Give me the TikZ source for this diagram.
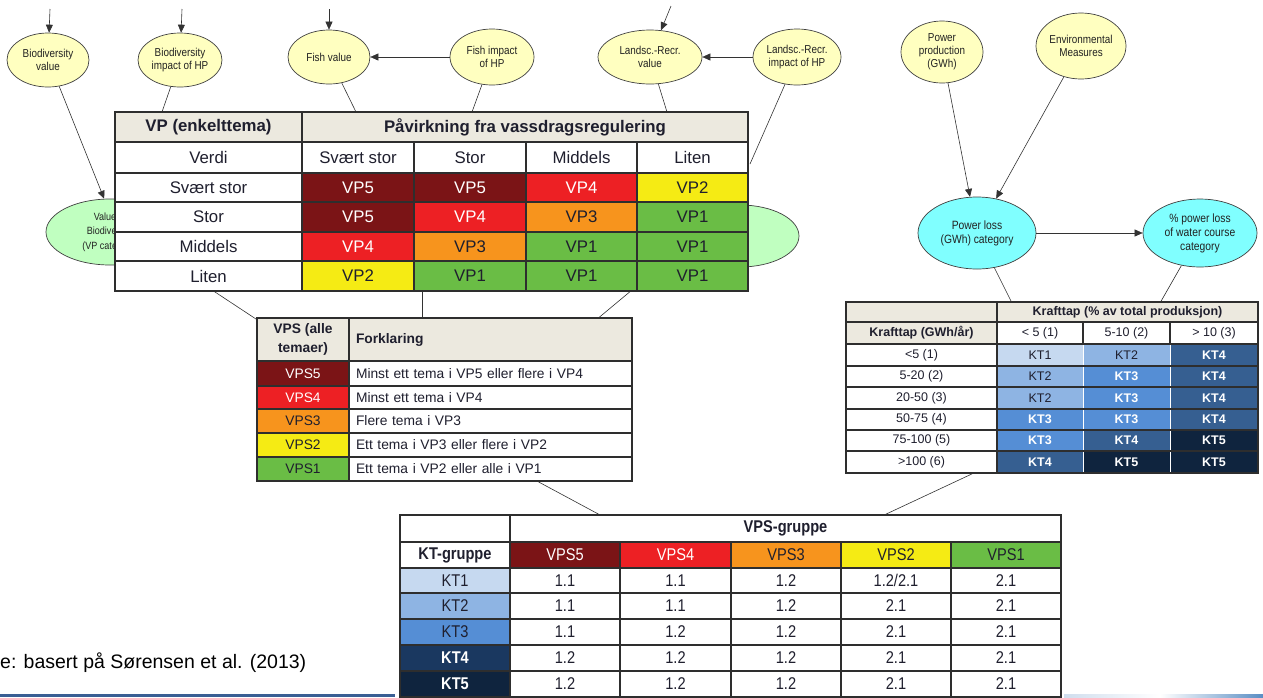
\documentclass[tikz,border=0pt]{standalone}
\usepackage{fontspec}
\setmainfont{Liberation Sans}
\newfontfamily\narrowfont[FakeStretch=0.86]{Liberation Sans}
\usetikzlibrary{shapes.geometric,arrows.meta}
\definecolor{vp5}{HTML}{7B1416}
\definecolor{vp4}{HTML}{ED2024}
\definecolor{vp3}{HTML}{F7941D}
\definecolor{vp2}{HTML}{F5EB14}
\definecolor{vp1}{HTML}{6ABD45}
\definecolor{hdr}{HTML}{ECE9DF}
\definecolor{bdr}{HTML}{2E2E2E}
\definecolor{kt1}{HTML}{C6D9F0}
\definecolor{kt2}{HTML}{8EB4E3}
\definecolor{kt3}{HTML}{558ED5}
\definecolor{kt4}{HTML}{365F91}
\definecolor{kt4b}{HTML}{1A3860}
\definecolor{kt5}{HTML}{0F243E}
\definecolor{ellY}{HTML}{FFFFC0}
\definecolor{ellC}{HTML}{80FFFF}
\definecolor{ellG}{HTML}{C0FFC0}
\definecolor{ellbd}{HTML}{404040}
\definecolor{etxt}{HTML}{222222}
\definecolor{txt}{HTML}{1F1F2E}
\definecolor{lncol}{HTML}{333333}
\definecolor{barblue}{HTML}{3A5F94}
\definecolor{barlight}{HTML}{D0DEEE}
\definecolor{barright}{HTML}{5A8EC4}
\newcommand\mkcell[7]{%
 \pgfmathsetmacro\tcw{#4-#2}\pgfmathsetmacro\tch{#5-#3}%
 \pgfmathsetmacro\tcx{(#2+#4)/2}\pgfmathsetmacro\tcy{(#3+#5)/2}%
 \node[tcell,#6,minimum width=\tcw pt,minimum height=\tch pt] (#1) at (\tcx,\tcy) {#7};}
\newcommand\mkleft[7]{%
 \pgfmathsetmacro\tcw{#4-#2}\pgfmathsetmacro\tch{#5-#3}%
 \pgfmathsetmacro\tcx{(#2+#4)/2}\pgfmathsetmacro\tcy{(#3+#5)/2}%
 \pgfmathsetmacro\tlw{#4-#2-14}%
 \node[tcell,#6,minimum width=\tcw pt,minimum height=\tch pt,text width=\tlw pt,align=left,inner xsep=7pt] (#1) at (\tcx,\tcy) {#7};}
\tikzset{
 ell/.style={ellipse, draw=ellbd, line width=0.7pt, inner sep=0pt, align=center, text=etxt, font=\narrowfont\fontsize{11.5}{13}\selectfont},
 ylw/.style={ell, fill=ellY},
 cyn/.style={ell, fill=ellC, font=\narrowfont\fontsize{12}{14}\selectfont},
 grn/.style={ell, fill=ellG, font=\narrowfont\fontsize{10.5}{14.5}\selectfont},
 conn/.style={draw=lncol, line width=0.6pt},
 arr/.style={conn, -{Triangle[length=8pt,width=7pt]}},
 tcell/.style={draw=bdr, fill=white, line width=1.6pt, inner sep=0pt, align=center, text=txt},
 mt/.style={font=\fontsize{16.8}{19}\selectfont},
 mth/.style={fill=hdr, font=\bfseries\fontsize{16.8}{19}\selectfont},
 c5/.style={fill=vp5,text=white},
 c4/.style={fill=vp4,text=white},
 c3/.style={fill=vp3,text=txt},
 c2/.style={fill=vp2,text=txt},
 c1/.style={fill=vp1,text=txt},
 vt/.style={line width=1.2pt, font=\fontsize{13.8}{16}\selectfont},
 vth/.style={vt, fill=hdr, font=\bfseries\fontsize{13.8}{19}\selectfont},
 kt/.style={line width=1pt, font=\fontsize{12.5}{14}\selectfont},
 kth/.style={kt, fill=hdr, font=\bfseries\fontsize{12.5}{14}\selectfont},
 kb/.style={font=\bfseries\fontsize{12.5}{14}\selectfont},
 k1/.style={kt, fill=kt1, draw=white, text=txt},
 k2/.style={kt, fill=kt2, draw=white, text=txt},
 k3/.style={kt, kb, fill=kt3, draw=white, text=white},
 k4/.style={kt, kb, fill=kt4, draw=white, text=white},
 k5/.style={kt, kb, fill=kt5, draw=white, text=white},
 kline/.style={draw=bdr, line width=1.4pt},
 bt/.style={line width=1.3pt, font=\narrowfont\fontsize{17}{19}\selectfont},
 bth/.style={bt, font=\narrowfont\bfseries\fontsize{17}{19}\selectfont},
 bline/.style={draw=bdr, line width=2pt},
}
\begin{document}
\begin{tikzpicture}[x=1pt,y=-1pt]
\useasboundingbox (0,0) rectangle (1263,697);
% green ellipses (partly behind the table)
\node[grn, minimum width=128pt, minimum height=66pt] (gL) at (110,232) {Value of\\Biodiversity\\(VP category)};
\node[grn, minimum width=118pt, minimum height=62pt] (gR) at (740,236) {};
% yellow ellipses
\node[ylw, minimum width=82pt, minimum height=54pt] (bv) at (48,60) {Biodiversity\\value};
\node[ylw, minimum width=84pt, minimum height=54pt] (bi) at (180,60) {Biodiversity\\impact of HP};
\node[ylw, minimum width=82pt, minimum height=54pt] (fv) at (329,57) {Fish value};
\node[ylw, minimum width=84pt, minimum height=56pt] (fi) at (492,57) {Fish impact\\of HP};
\node[ylw, minimum width=104pt, minimum height=54pt] (lv) at (650,57) {Landsc.-Recr.\\value};
\node[ylw, minimum width=88pt, minimum height=56pt] (li) at (797,57) {Landsc.-Recr.\\impact of HP};
\node[ylw, minimum width=82pt, minimum height=62pt] (pp) at (942,52) {Power\\production\\(GWh)};
\node[ylw, minimum width=90pt, minimum height=66pt] (em) at (1081,46) {Environmental\\Measures};
\node[cyn, minimum width=118pt, minimum height=72pt] (pl) at (977,233) {Power loss\\(GWh) category};
\node[cyn, minimum width=114pt, minimum height=68pt] (ppl) at (1200,233) {\% power loss\\of water course\\category};
% free ends of connectors
\coordinate (tbv) at (50,9);
\coordinate (tbi) at (182,9);
\coordinate (tfv) at (329,9);
\coordinate (tlv) at (671,6);
\coordinate (ebi) at (162,112);
\coordinate (efv) at (356,112);
\coordinate (efi) at (472,112);
\coordinate (elv) at (667,112);
\coordinate (eli) at (750,164);
\coordinate (epl) at (1012,303);
\coordinate (eppl) at (1160,303);
\coordinate (m1a) at (212,290);
\coordinate (m1b) at (259,321);
\coordinate (m2a) at (422,290);
\coordinate (m2b) at (422,320);
\coordinate (m3a) at (632,290);
\coordinate (m3b) at (596,320);
\coordinate (v1a) at (535,480);
\coordinate (v1b) at (602,516);
\coordinate (k1a) at (976,472);
\coordinate (k1b) at (882,516);
% connectors
\draw[arr] (tbv) -- (bv);
\draw[arr] (tbi) -- (bi);
\draw[arr] (tfv) -- (fv);
\draw[arr] (tlv) -- (lv);
\draw[arr] (fi) -- (fv);
\draw[arr] (li) -- (lv);
\draw[arr] (bv.-67) -- (gL.100);
\draw[arr] (pp) -- (pl);
\draw[arr] (em) -- (pl);
\draw[arr] (pl) -- (ppl);
\draw[conn] (bi) -- (ebi);
\draw[conn] (fv) -- (efv);
\draw[conn] (fi) -- (efi);
\draw[conn] (lv) -- (elv);
\draw[conn] (li) -- (eli);
\draw[conn] (pl) -- (epl);
\draw[conn] (ppl) -- (eppl);
\draw[conn] (m1a) -- (m1b);
\draw[conn] (m2a) -- (m2b);
\draw[conn] (m3a) -- (m3b);
\draw[conn] (v1a) -- (v1b);
\draw[conn] (k1a) -- (k1b);
% ===== main VP table =====
\mkcell{mh0}{115}{112}{302}{142}{mth}{VP (enkelttema)}
\mkcell{mh1}{302}{112}{748}{142}{mth}{Påvirkning fra vassdragsregulering}
\mkcell{mv0}{115}{142}{302}{173}{mt}{Verdi}
\mkcell{mv1}{302}{142}{414}{173}{mt}{Svært stor}
\mkcell{mv2}{414}{142}{526}{173}{mt}{Stor}
\mkcell{mv3}{526}{142}{637}{173}{mt}{Middels}
\mkcell{mv4}{637}{142}{748}{173}{mt}{Liten}
\mkcell{ma0}{115}{173}{302}{202}{mt}{Svært stor}
\mkcell{ma1}{302}{173}{414}{202}{mt,c5}{VP5}
\mkcell{ma2}{414}{173}{526}{202}{mt,c5}{VP5}
\mkcell{ma3}{526}{173}{637}{202}{mt,c4}{VP4}
\mkcell{ma4}{637}{173}{748}{202}{mt,c2}{VP2}
\mkcell{mb0}{115}{202}{302}{232}{mt}{Stor}
\mkcell{mb1}{302}{202}{414}{232}{mt,c5}{VP5}
\mkcell{mb2}{414}{202}{526}{232}{mt,c4}{VP4}
\mkcell{mb3}{526}{202}{637}{232}{mt,c3}{VP3}
\mkcell{mb4}{637}{202}{748}{232}{mt,c1}{VP1}
\mkcell{mc0}{115}{232}{302}{261}{mt}{Middels}
\mkcell{mc1}{302}{232}{414}{261}{mt,c4}{VP4}
\mkcell{mc2}{414}{232}{526}{261}{mt,c3}{VP3}
\mkcell{mc3}{526}{232}{637}{261}{mt,c1}{VP1}
\mkcell{mc4}{637}{232}{748}{261}{mt,c1}{VP1}
\mkcell{md0}{115}{261}{302}{291}{mt}{Liten}
\mkcell{md1}{302}{261}{414}{291}{mt,c2}{VP2}
\mkcell{md2}{414}{261}{526}{291}{mt,c1}{VP1}
\mkcell{md3}{526}{261}{637}{291}{mt,c1}{VP1}
\mkcell{md4}{637}{261}{748}{291}{mt,c1}{VP1}
\foreach \yy in {173,202,232,261}{\draw[draw=bdr,line width=2.4pt] (115,\yy) -- (748,\yy);}
\draw[draw=bdr,line width=2.4pt] (115,112) rectangle (748,291);
% ===== VPS table =====
\mkcell{vh0}{257}{318}{349}{361}{vth}{VPS (alle\\temaer)}
\mkleft{vh1}{349}{318}{632}{361}{vth}{Forklaring}
\mkcell{v50}{257}{361}{349}{386}{vt,c5}{VPS5}
\mkleft{v51}{349}{361}{632}{386}{vt}{Minst ett tema i VP5 eller flere i VP4}
\mkcell{v40}{257}{386}{349}{409}{vt,c4}{VPS4}
\mkleft{v41}{349}{386}{632}{409}{vt}{Minst ett tema i VP4}
\mkcell{v30}{257}{409}{349}{433}{vt,c3}{VPS3}
\mkleft{v31}{349}{409}{632}{433}{vt}{Flere tema i VP3}
\mkcell{v20}{257}{433}{349}{457}{vt,c2}{VPS2}
\mkleft{v21}{349}{433}{632}{457}{vt}{Ett tema i VP3 eller flere i VP2}
\mkcell{v10}{257}{457}{349}{481}{vt,c1}{VPS1}
\mkleft{v11}{349}{457}{632}{481}{vt}{Ett tema i VP2 eller alle i VP1}
\draw[draw=bdr,line width=1.6pt] (257,318) rectangle (632,481);
% ===== Krafttap table =====
\mkcell{kh0}{846}{302}{997}{322}{kth}{}
\mkcell{kh1}{997}{302}{1258}{322}{kth}{Krafttap (\% av total produksjon)}
\mkcell{ks0}{846}{322}{997}{344}{kth}{Krafttap (GWh/år)}
\mkcell{ks1}{997}{322}{1083}{344}{kt}{< 5 (1)}
\mkcell{ks2}{1083}{322}{1170}{344}{kt}{5-10 (2)}
\mkcell{ks3}{1170}{322}{1258}{344}{kt}{> 10 (3)}
\mkcell{k10}{846}{344}{997}{366}{kt}{<5 (1)}
\mkcell{k11}{997}{344}{1083}{366}{k1}{KT1}
\mkcell{k12}{1083}{344}{1170}{366}{k2}{KT2}
\mkcell{k13}{1170}{344}{1258}{366}{k4}{KT4}
\mkcell{k20}{846}{366}{997}{387}{kt}{5-20 (2)}
\mkcell{k21}{997}{366}{1083}{387}{k2}{KT2}
\mkcell{k22}{1083}{366}{1170}{387}{k3}{KT3}
\mkcell{k23}{1170}{366}{1258}{387}{k4}{KT4}
\mkcell{k30}{846}{387}{997}{409}{kt}{20-50 (3)}
\mkcell{k31}{997}{387}{1083}{409}{k2}{KT2}
\mkcell{k32}{1083}{387}{1170}{409}{k3}{KT3}
\mkcell{k33}{1170}{387}{1258}{409}{k4}{KT4}
\mkcell{k40}{846}{409}{997}{430}{kt}{50-75 (4)}
\mkcell{k41}{997}{409}{1083}{430}{k3}{KT3}
\mkcell{k42}{1083}{409}{1170}{430}{k3}{KT3}
\mkcell{k43}{1170}{409}{1258}{430}{k4}{KT4}
\mkcell{k50}{846}{430}{997}{451}{kt}{75-100 (5)}
\mkcell{k51}{997}{430}{1083}{451}{k3}{KT3}
\mkcell{k52}{1083}{430}{1170}{451}{k4}{KT4}
\mkcell{k53}{1170}{430}{1258}{451}{k5}{KT5}
\mkcell{k60}{846}{451}{997}{473}{kt}{>100 (6)}
\mkcell{k61}{997}{451}{1083}{473}{k4}{KT4}
\mkcell{k62}{1083}{451}{1170}{473}{k5}{KT5}
\mkcell{k63}{1170}{451}{1258}{473}{k5}{KT5}
\foreach \yy in {322,344,366,387,409,430,451}{\draw[kline] (846,\yy) -- (1258,\yy);}
\draw[kline] (997,302) -- (997,473);
\draw[kline] (1083,322) -- (1083,344);
\draw[kline] (1170,322) -- (1170,344);
\draw[kline] (846,302) rectangle (1258,473);
% ===== bottom table =====
\mkcell{bh0}{400}{515}{510}{542}{bth}{}
\mkcell{bh1}{510}{515}{1061}{542}{bth}{VPS-gruppe}
\mkcell{bs0}{400}{542}{510}{568}{bth}{KT-gruppe}
\mkcell{bs1}{510}{542}{620}{568}{bt,c5}{VPS5}
\mkcell{bs2}{620}{542}{731}{568}{bt,c4}{VPS4}
\mkcell{bs3}{731}{542}{841}{568}{bt,c3}{VPS3}
\mkcell{bs4}{841}{542}{951}{568}{bt,c2}{VPS2}
\mkcell{bs5}{951}{542}{1061}{568}{bt,c1}{VPS1}
\mkcell{b10}{400}{568}{510}{593}{bt,fill=kt1}{KT1}
\mkcell{b11}{510}{568}{620}{593}{bt}{1.1}
\mkcell{b12}{620}{568}{731}{593}{bt}{1.1}
\mkcell{b13}{731}{568}{841}{593}{bt}{1.2}
\mkcell{b14}{841}{568}{951}{593}{bt}{1.2/2.1}
\mkcell{b15}{951}{568}{1061}{593}{bt}{2.1}
\mkcell{b20}{400}{593}{510}{619}{bt,fill=kt2}{KT2}
\mkcell{b21}{510}{593}{620}{619}{bt}{1.1}
\mkcell{b22}{620}{593}{731}{619}{bt}{1.1}
\mkcell{b23}{731}{593}{841}{619}{bt}{1.2}
\mkcell{b24}{841}{593}{951}{619}{bt}{2.1}
\mkcell{b25}{951}{593}{1061}{619}{bt}{2.1}
\mkcell{b30}{400}{619}{510}{645}{bt,fill=kt3}{KT3}
\mkcell{b31}{510}{619}{620}{645}{bt}{1.1}
\mkcell{b32}{620}{619}{731}{645}{bt}{1.2}
\mkcell{b33}{731}{619}{841}{645}{bt}{1.2}
\mkcell{b34}{841}{619}{951}{645}{bt}{2.1}
\mkcell{b35}{951}{619}{1061}{645}{bt}{2.1}
\mkcell{b40}{400}{645}{510}{671}{bth,fill=kt4b,text=white}{KT4}
\mkcell{b41}{510}{645}{620}{671}{bt}{1.2}
\mkcell{b42}{620}{645}{731}{671}{bt}{1.2}
\mkcell{b43}{731}{645}{841}{671}{bt}{1.2}
\mkcell{b44}{841}{645}{951}{671}{bt}{2.1}
\mkcell{b45}{951}{645}{1061}{671}{bt}{2.1}
\mkcell{b50}{400}{671}{510}{697}{bth,fill=kt5,text=white}{KT5}
\mkcell{b51}{510}{671}{620}{697}{bt}{1.2}
\mkcell{b52}{620}{671}{731}{697}{bt}{1.2}
\mkcell{b53}{731}{671}{841}{697}{bt}{1.2}
\mkcell{b54}{841}{671}{951}{697}{bt}{2.1}
\mkcell{b55}{951}{671}{1061}{697}{bt}{2.1}
\foreach \yy in {542,568,593,619,645,671}{\draw[bline] (400,\yy) -- (1061,\yy);}
\draw[draw=bdr,line width=1.6pt] (400,515) rectangle (1061,697);
% ===== source text and footer bars =====
\node[anchor=west, inner sep=0pt, text=black, font=\fontsize{19.5}{22}\selectfont] (src) at (0,663) {e: basert på Sørensen et al. (2013)};
\fill[barblue] (0,694) rectangle (395,697);
\shade[left color=barlight, right color=white] (1064,694) rectangle (1160,697);
\shade[left color=white, right color=barright] (1160,694) rectangle (1263,697);
\end{tikzpicture}
\end{document}
